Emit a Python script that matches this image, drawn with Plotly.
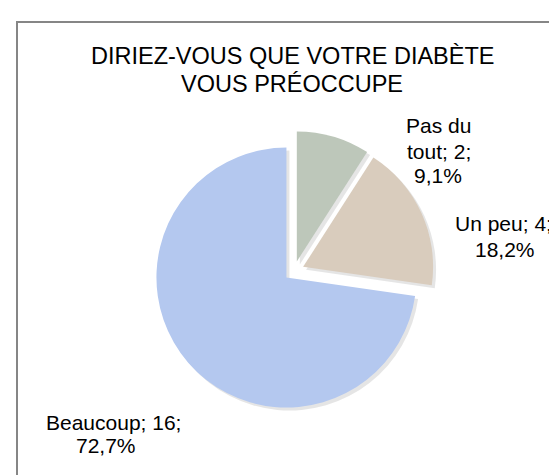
import plotly.graph_objects as go

categories = ["Pas du tout", "Un peu", "Beaucoup"]
counts = [2, 4, 16]
percent_labels = ["9,1%", "18,2%", "72,7%"]
colors = ["#bdc7ba", "#d9ccbd", "#b4c8ef"]
title_lines = ["DIRIEZ-VOUS QUE VOTRE DIABÈTE", "VOUS PRÉOCCUPE"]

W, H = 557, 475
FONT = "Liberation Sans, Arial, sans-serif"

# pie box in pixels (centre ~ (286, 263), radius ~130, pull ~0.077)
px0, px1, py0, py1 = 146, 426, 123, 403
pull = [0.077, 0.077, 0.077]

fig = go.Figure()

# soft shadow underneath
sh = 3
fig.add_trace(go.Pie(
    labels=categories, values=counts, sort=False, direction="clockwise", rotation=0,
    pull=pull, marker=dict(colors=["rgba(0,0,0,0.10)"] * 3, line=dict(width=0)),
    textinfo="none", hoverinfo="skip", showlegend=False,
    domain=dict(x=[(px0 + sh) / W, (px1 + sh) / W], y=[(H - py1 - sh) / H, (H - py0 - sh) / H]),
))

fig.add_trace(go.Pie(
    labels=categories,
    values=counts,
    sort=False,
    direction="clockwise",
    rotation=0,
    pull=pull,
    marker=dict(colors=colors, line=dict(width=0)),
    textinfo="none",
    hoverinfo="label+value+percent",
    showlegend=False,
    domain=dict(x=[px0 / W, px1 / W], y=[(H - py1) / H, (H - py0) / H]),
))


def put(text, px, py, size):
    fig.add_annotation(
        text=text, x=px / W, y=1 - py / H, xref="paper", yref="paper",
        showarrow=False, align="center", xanchor="center", yanchor="middle",
        font=dict(family=FONT, size=size, color="#000000"),
    )


# data labels, one annotation per line (Excel-like tight line spacing)
w0 = categories[0].split(" ")
label_lines = [
    [(f"{w0[0]} {w0[1]}", 430, 117.5), (f"{w0[2]}; {counts[0]};", 430.5, 143), (percent_labels[0], 430, 167.5)],
    [(f"{categories[1]}; {counts[1]};", 495.5, 215), (percent_labels[1], 496.5, 241)],
    [(f"{categories[2]}; {counts[2]};", 105.5, 414.5), (percent_labels[2], 97.5, 437.5)],
]
for lines in label_lines:
    for t, px, py in lines:
        put(t, px, py, 21)

# title
put(title_lines[0], 284, 48.5, 23.5)
put(title_lines[1], 284, 76.5, 23.5)

fig.add_shape(
    type="rect", xref="paper", yref="paper",
    x0=9 / W, y0=1 - 14 / H, x1=1.05, y1=-0.05,
    line=dict(color="#868686", width=2), fillcolor="rgba(0,0,0,0)", layer="above",
)

fig.update_layout(
    width=W, height=H,
    margin=dict(l=0, r=0, t=0, b=0),
    paper_bgcolor="#ffffff",
    plot_bgcolor="#ffffff",
)

fig.write_html("out.html")
